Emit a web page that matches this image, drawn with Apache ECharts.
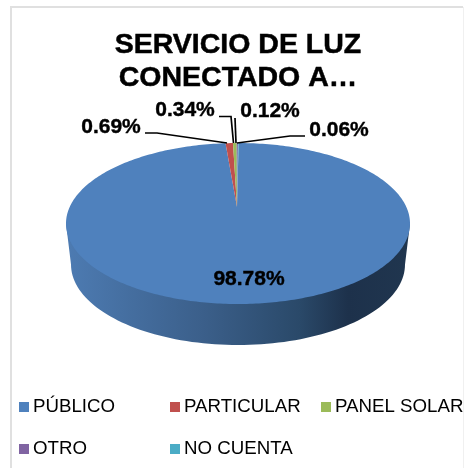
<!DOCTYPE html>
<html><head><meta charset="utf-8">
<style>html,body{margin:0;padding:0;background:#fff}#c{width:464px;height:468px}</style>
<script src="https://cdn.jsdelivr.net/npm/echarts@6/dist/echarts.min.js"></script>
</head><body><div id="c"></div>
<script>
const titleLines = ["SERVICIO DE LUZ", "CONECTADO A…"];
const categories = ["PÚBLICO", "PARTICULAR", "PANEL SOLAR", "OTRO", "NO CUENTA"];
const values = [98.78, 0.69, 0.34, 0.12, 0.06];
const valueLabels = ["98.78%", "0.69%", "0.34%", "0.12%", "0.06%"];
const colors = ["#4F81BD", "#C0504D", "#9BBB59", "#8064A2", "#4BACC6"];

// Pie geometry (slanted view)
const G = {cx: 238, cy: 223.5, rx: 172, ry: 80.5, apexX: 237, apexY: 207, depth: 41, rxB: 167, firstDeg: 0.2};
// Label placement: text centre, then leader path
const labelPos = [
  {x: 249, y: 279},
  {x: 111, y: 127, leader: [[145,133],[157,133],[227,143]]},
  {x: 185, y: 110, leader: [[219,116.5],[231,116.5],[233.5,143]]},
  {x: 270, y: 111, leader: [[235,118],[236,143]]},
  {x: 339, y: 130, leader: [[305,136],[290,136],[237,143]]}
];
const total = values.reduce((a, b) => a + b, 0);
function rimPoint(deg) {
  const t = deg * Math.PI / 180;
  return [G.cx + G.rx * Math.sin(t), G.cy - G.ry * Math.cos(t)];
}
function renderSlice(i, api) {
  const before = values.slice(0, i).reduce((a, b) => a + b, 0);
  const start = G.firstDeg + before / total * 360;
  const end = start + api.value(0) / total * 360;
  const children = [];
  if (i === 0) {
    const wall = [[G.cx - G.rx, G.cy]];
    for (let d = 270; d >= 90; d -= 2) {
      const t = d * Math.PI / 180;
      wall.push([G.cx + G.rxB * Math.sin(t), G.cy + G.depth - G.ry * Math.cos(t)]);
    }
    wall.push([G.cx + G.rx, G.cy]);
    children.push({type: 'polygon', shape: {points: wall}, style: {
      fill: new echarts.graphic.LinearGradient(0, 0, 1, 0, [
        {offset: 0, color: '#4D7BB2'},
        {offset: 0.4, color: '#3B5F8A'},
        {offset: 0.68, color: '#2A4969'},
        {offset: 0.82, color: '#1D314B'},
        {offset: 1, color: '#20364F'}
      ])
    }});
  }
  const pts = [[G.apexX, G.apexY]];
  const steps = Math.max(2, Math.ceil((end - start) / 1));
  for (let k = 0; k <= steps; k++) pts.push(rimPoint(start + (end - start) * k / steps));
  children.push({type: 'polygon', shape: {points: pts}, style: {fill: colors[i]}});
  const lp = labelPos[i];
  if (lp.leader) {
    children.push({type: 'polyline', z2: 20, shape: {points: lp.leader}, style: {stroke: '#000', lineWidth: 1.7, fill: null}});
  }
  children.push({type: 'text', z2: 30, style: {
    text: valueLabels[i], x: lp.x, y: lp.y, align: 'center', verticalAlign: 'middle',
    font: 'bold 21px "Liberation Sans", Arial, sans-serif', fill: '#000', stroke: '#000', lineWidth: 0.4
  }});
  return {type: 'group', children};
}
const series = categories.map((name, i) => ({
  type: 'custom', name, coordinateSystem: 'none', silent: true, animation: false,
  z: 2 + (i === 0 ? 0 : 1),
  itemStyle: {color: colors[i]},
  data: [[values[i]]],
  renderItem: (p, api) => renderSlice(i, api)
}));
const legendBase = {
  orient: 'vertical', icon: 'rect', itemWidth: 10, itemHeight: 10, itemGap: 22, padding: 0,
  selectedMode: false, top: 397,
  textStyle: {fontFamily: '"Liberation Sans", Arial, sans-serif', fontSize: 18.7, color: '#000', lineHeight: 20, padding: [0,0,0,-1]}
};
const chart = echarts.init(document.getElementById('c'), null, {renderer: 'canvas'});
chart.setOption({
  animation: false,
  backgroundColor: '#fff',
  title: {
    text: titleLines.join('\n'), left: 238, top: 28, textAlign: 'center', padding: 0,
    textStyle: {fontFamily: '"Liberation Sans", Arial, sans-serif', fontWeight: 'bold', fontSize: 28.5, lineHeight: 33.5, color: '#000', textBorderColor: '#000', textBorderWidth: 0.5}
  },
  legend: [
    Object.assign({}, legendBase, {left: 19, data: [categories[0], categories[3]]}),
    Object.assign({}, legendBase, {left: 170, data: [categories[1], categories[4]]}),
    Object.assign({}, legendBase, {left: 321, data: [categories[2]]})
  ],
  graphic: [
    {type: 'polyline', silent: true, shape: {points: [[11,468],[11,7],[463,7]]},
     style: {stroke: '#E0E0E0', lineWidth: 2, fill: null}},
    {type: 'line', silent: true, shape: {x1: 463.5, y1: 7, x2: 463.5, y2: 468},
     style: {stroke: '#F0F0F0', lineWidth: 1}}
  ],
  series
});
</script></body></html>
